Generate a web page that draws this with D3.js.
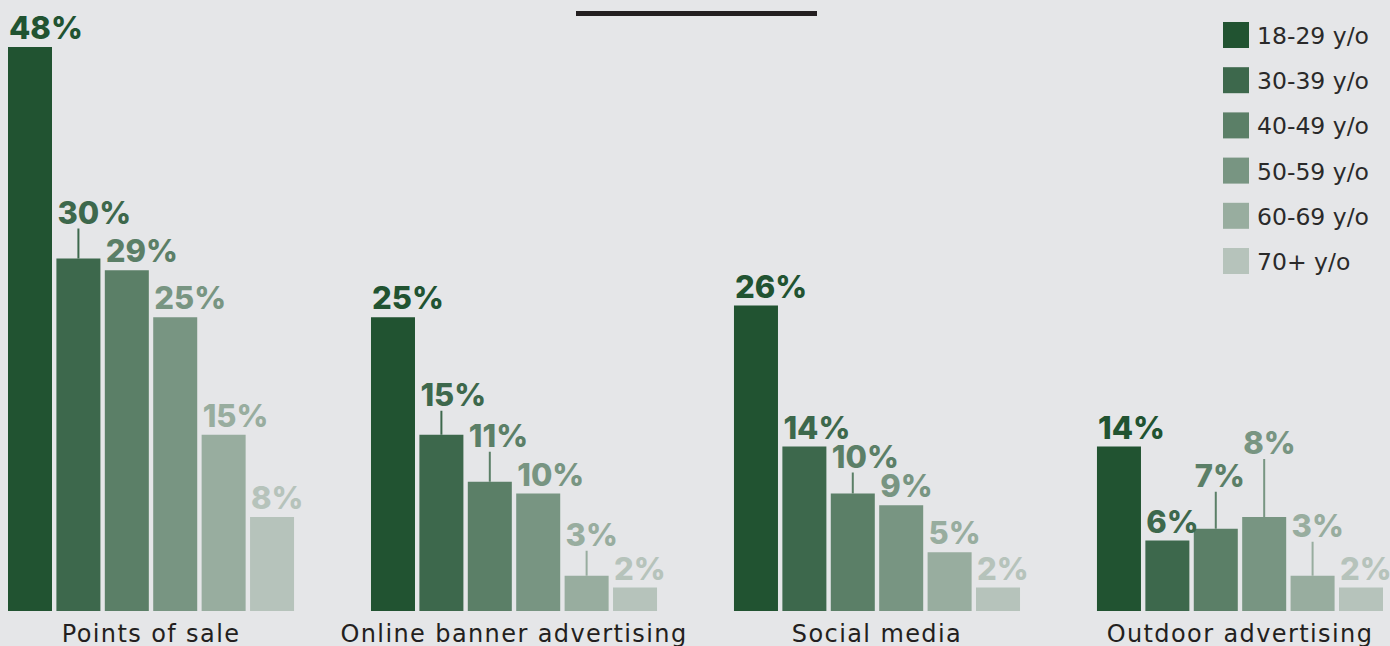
<!DOCTYPE html>
<html>
<head>
<meta charset="utf-8">
<script src="https://cdn.jsdelivr.net/npm/d3@7/dist/d3.min.js"></script>
<style>
  html, body { margin: 0; padding: 0; background: #e5e6e8; }
  svg { display: block; }
</style>
</head>
<body>
<svg id="chart" width="1390" height="646"></svg>
<script>
// Share of respondents by channel and age band (%)
const channels = ["Points of sale", "Online banner advertising", "Social media", "Outdoor advertising"];
const ageBands = ["18-29 y/o", "30-39 y/o", "40-49 y/o", "50-59 y/o", "60-69 y/o", "70+ y/o"];
const age18to29 = [48, 25, 26, 14];
const age30to39 = [30, 15, 14, 6];
const age40to49 = [29, 11, 10, 7];
const age50to59 = [25, 10, 9, 8];
const age60to69 = [15, 3, 5, 3];
const age70plus = [8, 2, 2, 2];
const seriesValues = [age18to29, age30to39, age40to49, age50to59, age60to69, age70plus];

// Palette, darkest for the youngest band
const palette = ["#215331", "#3d684c", "#5b7f67", "#789582", "#98ad9f", "#b6c3bb"];

// Extra lift (px) for value labels that would collide, drawn with a leader line
const labelLift = [
  [0, 27, 0, 0, 0, 0],
  [0, 21, 27, 0, 22, 0],
  [0, 0, 18, 0, 0, 0],
  [0, 0, 34, 55, 31, 0]
];

const svg = d3.select("#chart");

const x0 = d3.scaleBand().domain(channels).range([8, 1383]).paddingInner(0.212).paddingOuter(0);
const x1 = d3.scaleBand().domain(ageBands).range([0, x0.bandwidth()]).paddingInner(0.091).paddingOuter(0);
const y = d3.scaleLinear().domain([0, 48]).range([611, 47]);

// Decorative rule at the top
svg.append("rect").attr("x", 576).attr("y", 11).attr("width", 241).attr("height", 5).attr("fill", "#231f20");

const rows = [];
channels.forEach((c, ci) => {
  ageBands.forEach((a, ai) => {
    rows.push({ channel: c, band: a, ci, ai, value: seriesValues[ai][ci] });
  });
});

const groups = svg.append("g");

groups.selectAll("rect.bar").data(rows).join("rect")
  .attr("class", "bar")
  .attr("x", d => x0(d.channel) + x1(d.band))
  .attr("y", d => y(d.value))
  .attr("width", x1.bandwidth())
  .attr("height", d => y(0) - y(d.value))
  .attr("fill", d => palette[d.ai]);

const labelBase = d => y(d.value) - 8 - labelLift[d.ci][d.ai];

groups.selectAll("line.leader").data(rows.filter(d => labelLift[d.ci][d.ai] > 0)).join("line")
  .attr("class", "leader")
  .attr("x1", d => x0(d.channel) + x1(d.band) + x1.bandwidth() / 2)
  .attr("x2", d => x0(d.channel) + x1(d.band) + x1.bandwidth() / 2)
  .attr("y1", d => labelBase(d) + 5)
  .attr("y2", d => y(d.value))
  .attr("stroke", d => palette[d.ai])
  .attr("stroke-width", 2);

groups.selectAll("text.val").data(rows).join("text")
  .attr("class", "val")
  .attr("x", d => x0(d.channel) + x1(d.band) + 1)
  .attr("y", labelBase)
  .attr("fill", d => palette[d.ai])
  .style("font-family", "Inter, 'Open Sans', sans-serif")
  .style("font-weight", 800)
  .style("font-size", "31px")
  .style("letter-spacing", "0px")
  .text(d => d.value + "%");

// Category labels under each group
svg.append("g").selectAll("text").data(channels).join("text")
  .attr("x", d => x0(d) + x0.bandwidth() / 2)
  .attr("y", 642)
  .attr("text-anchor", "middle")
  .attr("fill", "#231f20")
  .style("font-family", "'DejaVu Sans', sans-serif")
  .style("font-size", "24px")
  .style("letter-spacing", "1.4px")
  .text(d => d);

// Legend
const legend = svg.append("g").attr("transform", "translate(1223,22)");
const lg = legend.selectAll("g").data(ageBands).join("g")
  .attr("transform", (d, i) => `translate(0,${i * 45.2})`);
lg.append("rect").attr("width", 26).attr("height", 26).attr("fill", (d, i) => palette[i]);
lg.append("text").attr("x", 34).attr("y", 22)
  .attr("fill", "#2a2a2a")
  .style("font-family", "'DejaVu Sans', sans-serif")
  .style("font-size", "23.5px")
  .text(d => d);
</script>
</body>
</html>
